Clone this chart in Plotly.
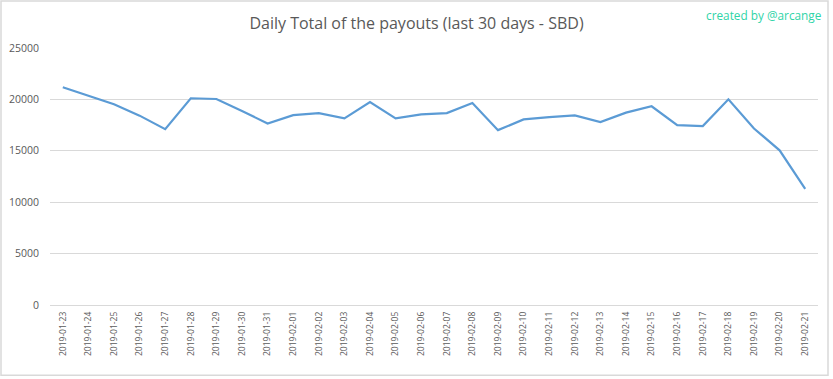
import plotly.graph_objects as go

dates = ["2019-01-23","2019-01-24","2019-01-25","2019-01-26","2019-01-27","2019-01-28",
         "2019-01-29","2019-01-30","2019-01-31","2019-02-01","2019-02-02","2019-02-03",
         "2019-02-04","2019-02-05","2019-02-06","2019-02-07","2019-02-08","2019-02-09",
         "2019-02-10","2019-02-11","2019-02-12","2019-02-13","2019-02-14","2019-02-15",
         "2019-02-16","2019-02-17","2019-02-18","2019-02-19","2019-02-20","2019-02-21"]
payouts = [21180, 20370, 19520, 18420, 17100, 20110,
           20040, 18870, 17660, 18470, 18670, 18150,
           19750, 18150, 18540, 18670, 19650, 17010,
           18050, 18280, 18440, 17790, 18710, 19330,
           17500, 17400, 20010, 17170, 15050, 11300]
y_ticks = [0, 5000, 10000, 15000, 20000, 25000]

PW, PH = 768, 257.5  # plot area size in px

fig = go.Figure()
fig.add_trace(go.Scatter(x=dates, y=payouts, mode="lines",
                         line=dict(color="#5b9bd5", width=2.2)))

fig.update_layout(
    width=833, height=379,
    margin=dict(l=50, r=15, t=48, b=73.5, autoexpand=False),
    paper_bgcolor="white", plot_bgcolor="white",
    showlegend=False,
    font=dict(family="Open Sans, sans-serif", color="#595959"),
    title=dict(text="Daily Total of the payouts (last 30 days - SBD)",
               x=0.5, xanchor="center", y=1 - 23 / 379, yanchor="middle",
               font=dict(size=16, color="#595959")),
    xaxis=dict(type="category", range=[-0.5, len(dates) - 0.5], tickangle=-90,
               tickfont=dict(size=8.5, color="#595959"),
               showgrid=False, showline=False, ticks="", zeroline=False,
               ticklabelstandoff=4, automargin=False),
    yaxis=dict(range=[0, 25000], tickvals=y_ticks, ticktext=[str(v) for v in y_ticks],
               tickfont=dict(size=10.5, color="#595959"), gridcolor="#d9d9d9",
               gridwidth=1, zeroline=True, zerolinecolor="#d9d9d9", zerolinewidth=1,
               showline=False, ticks="", ticklabelstandoff=10, automargin=False),
    annotations=[dict(text="created by @arcange", xref="paper", yref="paper",
                      x=1.0, y=1.0, xanchor="right", yanchor="middle",
                      yshift=33, xshift=6, showarrow=False,
                      font=dict(size=11.8, color="#2fd4a7"))],
    shapes=[dict(type="rect", xref="paper", yref="paper", x0=-49 / PW, x1=1 + 10 / PW,
                 y0=-70.5 / PH, y1=1 + 47 / PH, line=dict(color="#d9d9d9", width=1.5))]
)

fig.write_html("out.html", config={"displayModeBar": False},
               post_script="document.body.style.margin='0';")
